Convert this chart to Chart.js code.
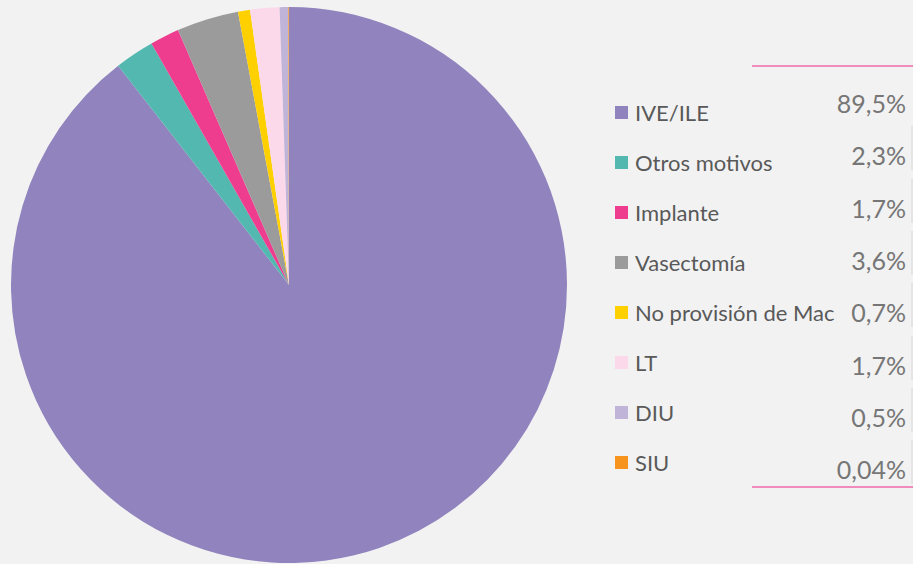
<!DOCTYPE html>
<html>
<head>
<meta charset="utf-8">
<script src="https://cdn.jsdelivr.net/npm/chart.js@4/dist/chart.umd.min.js"></script>
<style>
  html, body { margin: 0; padding: 0; background: #f2f2f2; }
  #wrap { position: relative; width: 913px; height: 564px; overflow: hidden; }
  #pieBox { position: absolute; left: 11px; top: 7px; width: 556px; height: 556px; }
  .row { position: absolute; left: 615px; height: 22px; display: flex; align-items: center;
         font-family: Lato, "Open Sans", sans-serif; font-size: 22px; color: #595959; white-space: nowrap; }
  .sw { width: 13px; height: 13px; margin-right: 7px; }
  .val { position: absolute; right: 7px; font-family: Lato, "Open Sans", sans-serif; font-size: 25px;
         color: #767676; line-height: 26px; text-align: right; }
  .rule { position: absolute; left: 752px; width: 161px; height: 2px; background: #f08cbb; }
  .edge { position: absolute; left: 911px; width: 2px; background: #e4e4e4; }
</style>
</head>
<body>
<div id="wrap">
  <div id="pieBox"><canvas id="pieChart" width="556" height="556"></canvas></div>
  <div class="rule" style="top:65px"></div>
  <div class="rule" style="top:486px"></div>
</div>
<script>
const categories = ['IVE/ILE', 'Otros motivos', 'Implante', 'Vasectomía', 'No provisión de Mac', 'LT', 'DIU', 'SIU'];
const shares = [89.5, 2.3, 1.7, 3.6, 0.7, 1.7, 0.5, 0.04];
const shareLabels = ['89,5%', '2,3%', '1,7%', '3,6%', '0,7%', '1,7%', '0,5%', '0,04%'];
const sliceColors = ['#9183bd', '#52b8b0', '#ee3d8f', '#9b9b9b', '#ffd000', '#fcd9ea', '#c0b4d9', '#f7941d'];

class ShareChart {
  constructor() {
    const ctx = document.getElementById('pieChart').getContext('2d');
    this.pie = this.drawPie(ctx);
    this.drawLegend();
  }

  drawPie(ctx) {
    return new Chart(ctx, {
      type: 'pie',
      data: {
        labels: [...categories],
        datasets: [{
          data: [...shares],
          backgroundColor: sliceColors,
          borderWidth: 0,
          hoverOffset: 0
        }]
      },
      options: {
        responsive: false,
        animation: false,
        layout: { padding: 0 },
        plugins: { legend: { display: false }, tooltip: { enabled: false } }
      }
    });
  }

  drawLegend() {
    const wrap = document.getElementById('wrap');
    categories.forEach((name, i) => {
      const row = document.createElement('div');
      row.className = 'row';
      row.style.top = (101 + i * 50.1) + 'px';
      row.innerHTML = '<div class="sw" style="background:' + sliceColors[i] + '"></div>' + name;
      wrap.appendChild(row);

      const val = document.createElement('div');
      val.className = 'val';
      val.style.top = (90 + i * 52.3) + 'px';
      val.textContent = shareLabels[i];
      wrap.appendChild(val);

      if (i > 0) {
        const edge = document.createElement('div');
        edge.className = 'edge';
        edge.style.top = (74 + i * 52.3) + 'px';
        edge.style.height = '44px';
        wrap.appendChild(edge);
      }
    });
  }
}

new ShareChart();
</script>
</body>
</html>
